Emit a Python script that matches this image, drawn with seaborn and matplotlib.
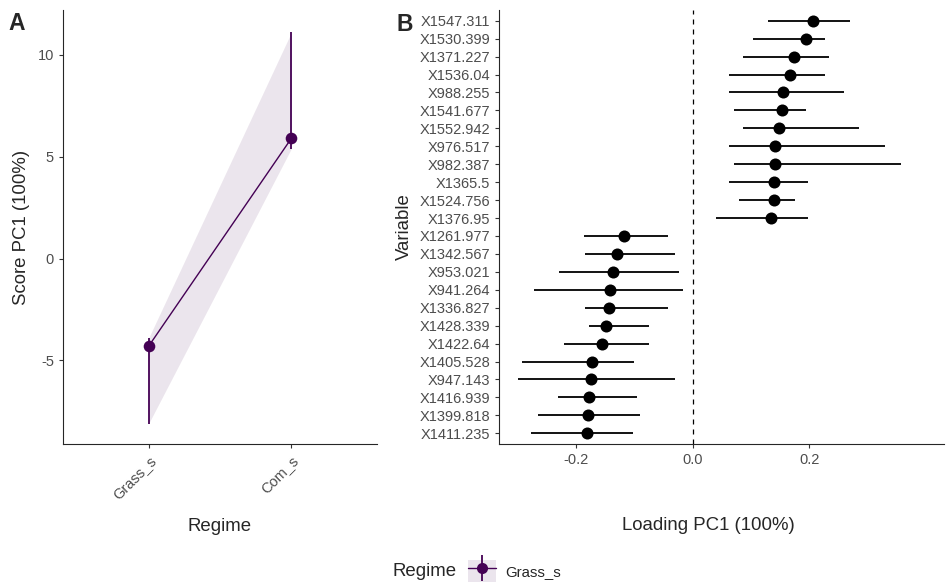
import pandas as pd
import matplotlib
matplotlib.use('Agg')
import matplotlib.pyplot as plt
from matplotlib.lines import Line2D
from matplotlib.patches import Patch
import seaborn as sns

# -----------------------------
# Data
# -----------------------------

# panel A: PC1 score per regime
regimes = ["Grass_s", "Com_s"]
score_mean = [-4.3, 5.9]
score_lo = [-8.1, 5.4]
score_hi = [-3.9, 11.1]

# panel B: PC1 loadings, listed top to bottom
variables = [
    "X1547.311", "X1530.399", "X1371.227", "X1536.04", "X988.255", "X1541.677",
    "X1552.942", "X976.517", "X982.387", "X1365.5", "X1524.756", "X1376.95",
    "X1261.977", "X1342.567", "X953.021", "X941.264", "X1336.827", "X1428.339",
    "X1422.64", "X1405.528", "X947.143", "X1416.939", "X1399.818", "X1411.235",
]
loading = [
    0.207, 0.194, 0.173, 0.167, 0.155, 0.153, 0.148, 0.141, 0.141, 0.139, 0.139, 0.134,
    -0.118, -0.130, -0.136, -0.141, -0.143, -0.149, -0.155, -0.173, -0.175, -0.177, -0.179, -0.181,
]
loading_lo = [
    0.129, 0.104, 0.086, 0.063, 0.062, 0.071, 0.086, 0.062, 0.071, 0.062, 0.080, 0.040,
    -0.186, -0.185, -0.229, -0.272, -0.185, -0.178, -0.221, -0.293, -0.299, -0.231, -0.265, -0.277,
]
loading_hi = [
    0.270, 0.227, 0.233, 0.227, 0.259, 0.195, 0.286, 0.330, 0.358, 0.197, 0.176, 0.198,
    -0.043, -0.030, -0.023, -0.017, -0.043, -0.074, -0.075, -0.100, -0.030, -0.096, -0.090, -0.102,
]

PURPLE = "#440154"
TICK_GREY = "#4D4D4D"

# -----------------------------
# Style
# -----------------------------

sns.set_theme(style="ticks")
plt.rcParams['font.family'] = ['Liberation Sans', 'DejaVu Sans']
plt.rcParams['axes.linewidth'] = 0.8
plt.rcParams['xtick.major.width'] = 0.8
plt.rcParams['ytick.major.width'] = 0.8
plt.rcParams['xtick.major.size'] = 3
plt.rcParams['ytick.major.size'] = 3

W, H = 946, 585
fig = plt.figure(figsize=(W / 100, H / 100), dpi=100)
axA = fig.add_axes([63 / W, 1 - 444 / H, (377 - 63) / W, (444 - 10) / H])
axB = fig.add_axes([499 / W, 1 - 444 / H, (944 - 499) / W, (444 - 10) / H])

# -----------------------------
# Panel A
# -----------------------------

dfA = pd.DataFrame({"Regime": regimes, "score": score_mean, "lo": score_lo, "hi": score_hi})
axA.fill_between(dfA["Regime"], dfA["lo"], dfA["hi"], color=PURPLE, alpha=0.1, lw=0)
sns.lineplot(data=dfA, x="Regime", y="score", sort=False, color=PURPLE, lw=1, ax=axA)
axA.vlines(dfA["Regime"], dfA["lo"], dfA["hi"], color=PURPLE, lw=1.3)
sns.scatterplot(data=dfA, x="Regime", y="score", color=PURPLE, s=70, linewidth=0, ax=axA, zorder=5)

axA.set_xlim(-0.6, 1.6)
axA.set_ylim(-9.1, 12.2)
axA.set_yticks([-5, 0, 5, 10])
axA.set_yticklabels(["-5", "0", "5", "10"])
axA.tick_params(axis="y", labelsize=10.5, labelcolor=TICK_GREY, color="#333333")
axA.tick_params(axis="x", labelsize=10.5, labelcolor=TICK_GREY, color="#333333")
for lbl in axA.get_xticklabels():
    lbl.set_rotation(45)
    lbl.set_ha("right")
    lbl.set_rotation_mode("anchor")
axA.set_xlabel("Regime", fontsize=13.4)
axA.set_ylabel("Score PC1 (100%)", fontsize=13.4)
axA.xaxis.set_label_coords(0.5, -0.17)
axA.yaxis.set_label_coords(-0.105, 0.5)

# -----------------------------
# Panel B
# -----------------------------

dfB = pd.DataFrame({"Variable": variables, "loading": loading, "lo": loading_lo, "hi": loading_hi})
axB.hlines(dfB["Variable"], dfB["lo"], dfB["hi"], color="black", lw=1.3)
sns.scatterplot(data=dfB, x="loading", y="Variable", color="black", s=75, linewidth=0, ax=axB, zorder=5)
axB.axvline(0, color="black", lw=0.9, ls=(0, (4, 4)))

axB.set_xlim(-0.332, 0.431)
axB.set_ylim(len(variables) - 1 + 0.6, -0.6)
axB.set_xticks([-0.2, 0.0, 0.2])
axB.set_xticklabels(["-0.2", "0.0", "0.2"])
axB.tick_params(axis="both", labelsize=10.5, labelcolor=TICK_GREY, color="#333333")
axB.set_xlabel("Loading PC1 (100%)", fontsize=13.4)
axB.set_ylabel("Variable", fontsize=13.4)
axB.xaxis.set_label_coords(0.47, -0.168)
axB.yaxis.set_label_coords(-0.193, 0.5)

sns.despine(fig=fig)

# panel tags
fig.text(8 / W, 1 - 12 / H, "A", fontsize=16.5, fontweight="bold", va="top", ha="left")
fig.text(397 / W, 1 - 13 / H, "B", fontsize=16.5, fontweight="bold", va="top", ha="left")

# -----------------------------
# Legend
# -----------------------------

fig.text(392 / W, 1 - 571 / H, "Regime", fontsize=13.4, va="center", ha="left")
key = (
    Patch(facecolor=PURPLE, alpha=0.1, edgecolor="none"),
    Line2D([], [], color=PURPLE, lw=1, marker="o", markersize=8, markeredgewidth=0),
    Line2D([], [], color=PURPLE, ls="none", marker="|", markersize=19, markeredgewidth=1.3),
)
fig.legend(handles=[key], labels=["Grass_s"], loc="center left",
           bbox_to_anchor=(462 / W, 1 - 571 / H), frameon=False, fontsize=10.8,
           handlelength=1.85, handleheight=1.85, handletextpad=0.6, borderaxespad=0)

fig.savefig("out.png", dpi=100)
